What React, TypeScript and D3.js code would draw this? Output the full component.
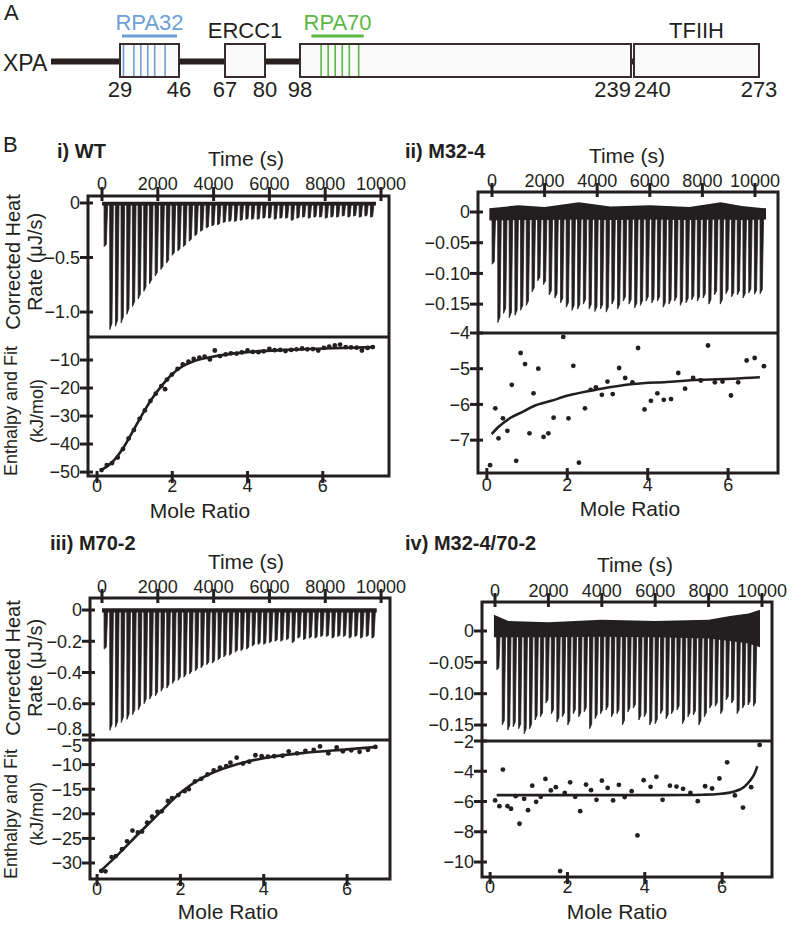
import React from "react";
import * as d3 from "d3";

const FONT = "'Liberation Sans', Arial, Helvetica, sans-serif";
const INK = "#231f20";

/* ---------- A: XPA domain map ---------- */
const residueMarks = [29, 46, 67, 80, 98, 239, 240, 273];
const boxStart = [29, 67, 98, 240];
const boxEnd = [46, 80, 239, 273];
const partnerNames = ["RPA32", "ERCC1", "RPA70", "TFIIH"];
const partnerFrom = [29, 67, 102, 240];
const partnerTo = [46, 80, 126, 273];
const partnerColors = ["#6d9fd8", INK, "#5cb746", INK];
const partnerBar = [true, false, true, false];
const rpa32Sites = [30, 33, 35, 37, 39, 42];
const rpa70Sites = [107, 110, 113, 116, 119, 123];

/* ---------- B: ITC, shared tick labels ---------- */
const timeTicks = [0, 2000, 4000, 6000, 8000, 10000];
const timeLabels = ["0", "2000", "4000", "6000", "8000", "10000"];
const moleTicks = [0, 2, 4, 6];
const moleLabels = ["0", "2", "4", "6"];

/* i) WT */
const heatTicksI = [0, -0.5, -1.0];
const heatLabelsI = ["0", "\u22120.5", "\u22121.0"];
const enthTicksI = [-10, -20, -30, -40, -50];
const enthLabelsI = ["\u221210", "\u221220", "\u221230", "\u221240", "\u221250"];
const peaksI = [-0.40, -1.16, -1.13, -1.10, -1.02, -0.95, -0.88, -0.81, -0.74, -0.67,
  -0.61, -0.55, -0.48, -0.44, -0.40, -0.35, -0.30, -0.26, -0.23, -0.21,
  -0.20, -0.18, -0.17, -0.17, -0.16, -0.15, -0.15, -0.15, -0.14, -0.14,
  -0.15, -0.14, -0.14, -0.16, -0.14, -0.13, -0.14, -0.13, -0.13, -0.14,
  -0.13, -0.13, -0.12, -0.13, -0.12, -0.13, -0.12, -0.13];
const bandTimeI = [0, 9820];
const bandTopI = [0.012, 0.012];
const bandBotI = [-0.022, -0.022];
const moleI = [0.12, 0.26, 0.40, 0.55, 0.69, 0.84, 0.98, 1.13, 1.27, 1.42,
  1.56, 1.71, 1.81, 1.86, 1.99, 2.14, 2.28, 2.43, 2.57, 2.72,
  2.86, 3.00, 3.13, 3.27, 3.42, 3.56, 3.71, 3.85, 4.00, 4.14,
  4.29, 4.43, 4.58, 4.72, 4.87, 5.01, 5.16, 5.30, 5.45, 5.59,
  5.74, 5.88, 6.03, 6.17, 6.32, 6.46, 6.61, 6.75, 6.90, 7.04, 7.19, 7.33];
const enthI = [-49.3, -47.5, -46.8, -44.8, -41.8, -38.0, -35.0, -31.0, -28.0, -24.6,
  -22.0, -19.3, -20.4, -17.0, -15.2, -13.2, -11.6, -10.6, -9.6, -9.2,
  -8.8, -9.8, -6.6, -8.6, -8.0, -7.6, -7.7, -7.3, -6.6, -7.1,
  -7.2, -6.9, -6.0, -6.5, -6.4, -6.8, -6.4, -6.2, -5.9, -6.2,
  -6.1, -6.6, -5.7, -5.2, -4.8, -4.5, -5.4, -5.5, -5.6, -6.6, -5.7, -5.4];
const fitMoleI = [0.1, 0.4, 0.7, 0.95, 1.2, 1.45, 1.7, 2.0, 2.3, 2.6, 3.0, 3.5, 4.0, 5.0, 6.0, 7.35];
const fitEnthI = [-49.4, -46.5, -41.3, -35.5, -29.5, -24.0, -19.5, -15.0, -12.0, -10.3, -9.0, -7.9, -7.2, -6.4, -5.9, -5.4];

/* ii) M32-4 */
const heatTicksII = [0, -0.05, -0.10, -0.15];
const heatLabelsII = ["0", "\u22120.05", "\u22120.10", "\u22120.15"];
const enthTicksII = [-4, -5, -6, -7];
const enthLabelsII = ["\u22124", "\u22125", "\u22126", "\u22127"];
const peaksII = [-0.085, -0.18, -0.165, -0.172, -0.168, -0.160, -0.152, -0.130, -0.112, -0.118,
  -0.135, -0.140, -0.148, -0.155, -0.160, -0.158, -0.150, -0.158, -0.162, -0.158,
  -0.163, -0.150, -0.158, -0.145, -0.150, -0.156, -0.152, -0.145, -0.148, -0.145,
  -0.155, -0.150, -0.145, -0.152, -0.148, -0.143, -0.145, -0.140, -0.150, -0.135,
  -0.150, -0.133, -0.138, -0.135, -0.140, -0.132, -0.134, -0.133];
const bandTimeII = [-100, 1000, 2000, 3300, 4500, 6000, 7500, 8700, 9500, 10420];
const bandTopII = [0.006, 0.011, 0.008, 0.016, 0.009, 0.011, 0.008, 0.016, 0.010, 0.006];
const bandBotII = [-0.014, -0.013, -0.013, -0.012, -0.013, -0.012, -0.013, -0.012, -0.013, -0.012];
const moleII = [0.08, 0.21, 0.29, 0.40, 0.51, 0.62, 0.73, 0.84, 0.95, 1.06,
  1.16, 1.28, 1.41, 1.53, 1.66, 1.90, 2.03, 2.15, 2.29, 2.44,
  2.58, 2.71, 2.86, 3.00, 3.13, 3.29, 3.44, 3.62, 3.76, 3.92,
  4.08, 4.24, 4.40, 4.58, 4.76, 4.93, 5.13, 5.32, 5.50, 5.67,
  5.86, 6.07, 6.25, 6.46, 6.66, 6.89];
const enthII = [-7.70, -6.11, -6.95, -6.39, -6.74, -5.45, -7.58, -4.56, -4.87, -6.81,
  -5.69, -5.00, -6.91, -6.81, -6.37, -4.11, -6.39, -4.92, -7.63, -6.11,
  -5.59, -5.52, -5.73, -5.36, -5.71, -4.98, -5.26, -5.38, -4.42, -6.14,
  -5.90, -5.69, -5.87, -5.85, -5.12, -5.56, -5.26, -5.33, -4.35, -5.38,
  -5.36, -5.75, -5.38, -4.77, -4.70, -4.93];
const fitMoleII = [0.12, 0.30, 0.58, 0.90, 1.16, 1.60, 1.99, 2.81, 3.64, 4.47, 5.30, 6.13, 6.79];
const fitEnthII = [-6.83, -6.62, -6.38, -6.20, -6.05, -5.90, -5.76, -5.57, -5.43, -5.37, -5.31, -5.28, -5.24];

/* iii) M70-2 */
const heatTicksIII = [0, -0.2, -0.4, -0.6, -0.8];
const heatLabelsIII = ["0", "\u22120.2", "\u22120.4", "\u22120.6", "\u22120.8"];
const enthTicksIII = [-5, -10, -15, -20, -25, -30];
const enthLabelsIII = ["\u22125", "\u221210", "\u221215", "\u221220", "\u221225", "\u221230"];
const peaksIII = [-0.25, -0.77, -0.75, -0.72, -0.70, -0.67, -0.64, -0.60, -0.57, -0.55,
  -0.52, -0.50, -0.47, -0.45, -0.43, -0.41, -0.39, -0.37, -0.35, -0.34,
  -0.32, -0.30, -0.29, -0.27, -0.26, -0.25, -0.23, -0.22, -0.22, -0.21,
  -0.20, -0.20, -0.19, -0.21, -0.18, -0.19, -0.18, -0.18, -0.17, -0.17,
  -0.18, -0.17, -0.17, -0.18, -0.17, -0.18, -0.17, -0.18];
const bandTimeIII = [0, 9845];
const bandTopIII = [0.012, 0.012];
const bandBotIII = [-0.016, -0.016];
const moleIII = [0.10, 0.20, 0.35, 0.45, 0.60, 0.72, 0.85, 0.98, 1.08, 1.20,
  1.32, 1.45, 1.55, 1.70, 1.80, 1.95, 2.10, 2.20, 2.35, 2.50,
  2.65, 2.80, 2.95, 3.10, 3.20, 3.35, 3.50, 3.65, 3.80, 3.95,
  4.10, 4.25, 4.45, 4.60, 4.80, 5.00, 5.20, 5.35, 5.55, 5.75,
  5.90, 6.10, 6.30, 6.50, 6.68];
const enthIII = [-31.6, -31.7, -28.8, -28.6, -27.2, -25.6, -23.4, -23.8, -23.6, -21.8,
  -20.6, -19.6, -19.5, -17.4, -16.8, -16.2, -15.4, -15.0, -13.4, -12.9,
  -12.0, -11.2, -10.6, -10.3, -9.6, -8.6, -9.8, -9.4, -8.1, -8.3,
  -8.4, -8.3, -8.2, -7.3, -7.7, -7.2, -7.0, -6.3, -7.7, -6.5,
  -7.3, -7.1, -7.4, -7.0, -6.4];
const fitMoleIII = [0.10, 0.5, 1.0, 1.5, 2.0, 2.5, 3.0, 3.5, 4.0, 5.0, 6.0, 6.7];
const fitEnthIII = [-31.5, -28.3, -24.0, -19.8, -15.7, -12.8, -10.9, -9.6, -8.7, -7.6, -6.9, -6.4];

/* iv) M32-4/70-2 */
const heatTicksIV = [0, -0.05, -0.10, -0.15];
const heatLabelsIV = ["0", "\u22120.05", "\u22120.10", "\u22120.15"];
const enthTicksIV = [-2, -4, -6, -8, -10];
const enthLabelsIV = ["\u22122", "\u22124", "\u22126", "\u22128", "\u221210"];
const peaksIV = [-0.062, -0.150, -0.158, -0.153, -0.156, -0.164, -0.156, -0.142, -0.137, -0.115,
  -0.132, -0.145, -0.137, -0.150, -0.132, -0.137, -0.129, -0.156, -0.140, -0.132,
  -0.126, -0.137, -0.132, -0.150, -0.129, -0.123, -0.142, -0.137, -0.150, -0.148,
  -0.132, -0.140, -0.132, -0.126, -0.148, -0.137, -0.134, -0.150, -0.137, -0.123,
  -0.120, -0.132, -0.110, -0.115, -0.132, -0.123, -0.118, -0.120];
const bandTimeIV = [-40, 500, 2000, 4000, 6000, 8000, 8800, 9500, 9925];
const bandTopIV = [0.026, 0.016, 0.014, 0.018, 0.016, 0.018, 0.024, 0.028, 0.034];
const bandBotIV = [-0.010, -0.010, -0.010, -0.009, -0.010, -0.012, -0.016, -0.020, -0.026];
const moleIV = [0.13, 0.24, 0.33, 0.45, 0.54, 0.66, 0.76, 0.88, 0.98,
  1.09, 1.19, 1.31, 1.43, 1.57, 1.70, 1.81, 1.93, 2.07, 2.20,
  2.33, 2.48, 2.61, 2.75, 2.89, 3.04, 3.18, 3.33, 3.48, 3.66,
  3.81, 3.97, 4.15, 4.30, 4.46, 4.65, 4.82, 4.99, 5.18, 5.37,
  5.56, 5.74, 5.93, 6.13, 6.33, 6.54, 6.75, 6.97];
const enthIV = [-5.93, -6.31, -3.89, -6.31, -6.48, -5.65, -7.47, -5.82, -6.57,
  -4.95, -6.02, -5.69, -4.51, -5.27, -5.05, -10.6, -5.43, -4.73, -5.69,
  -6.64, -4.88, -5.25, -5.89, -4.62, -5.10, -5.93, -4.90, -5.71, -5.32,
  -8.24, -4.59, -5.03, -4.37, -5.89, -4.95, -5.01, -5.16, -5.43, -5.98,
  -4.99, -5.14, -4.48, -3.41, -5.60, -6.40, -5.05, -2.26];
const fitMoleIV = [0.17, 1.0, 2.0, 3.0, 4.0, 5.0, 5.5, 5.9, 6.3, 6.56, 6.73, 6.84, 6.91];
const fitEnthIV = [-5.58, -5.58, -5.58, -5.58, -5.58, -5.57, -5.55, -5.50, -5.35, -5.05, -4.60, -4.15, -3.67];

type Frame = { l: number; r: number; t: number; m: number; b: number };

interface PanelDef {
  id: string;
  title: string;
  titleX: number;
  titleY: number;
  frame: Frame;
  timeDomain: [number, number];
  heatDomain: [number, number];
  enthDomain: [number, number];
  moleDomain: [number, number];
  heatTicks: number[];
  heatLabels: string[];
  enthTicks: number[];
  enthLabels: string[];
  peaks: number[];
  injRange: [number, number];
  bandT: number[];
  bandTop: number[];
  bandBot: number[];
  dotsX: number[];
  dotsY: number[];
  fitX: number[];
  fitY: number[];
  timeTitle: [number, number];
  topTickY: number;
  bottomTickY: number;
  moleTitle: [number, number];
  yTitles?: [number, number];
}

const panels: PanelDef[] = [
  {
    id: "i", title: "i) WT", titleX: 57, titleY: 158,
    frame: { l: 88, r: 389, t: 196, m: 337, b: 476 },
    timeDomain: [-502, 10287], heatDomain: [0.064, -1.229],
    enthDomain: [-1.79, -51.4], moleDomain: [-0.24, 7.76],
    heatTicks: heatTicksI, heatLabels: heatLabelsI, enthTicks: enthTicksI, enthLabels: enthLabelsI,
    peaks: peaksI, injRange: [72, 9620], bandT: bandTimeI, bandTop: bandTopI, bandBot: bandBotI,
    dotsX: moleI, dotsY: enthI, fitX: fitMoleI, fitY: fitEnthI,
    timeTitle: [246, 166], topTickY: 190, bottomTickY: 492, moleTitle: [200, 518],
    yTitles: [262, 411],
  },
  {
    id: "ii", title: "ii) M32-4", titleX: 405, titleY: 158,
    frame: { l: 478, r: 778, t: 192, m: 333, b: 473 },
    timeDomain: [-532, 10875], heatDomain: [0.0326, -0.197],
    enthDomain: [-4, -7.92], moleDomain: [-0.22, 7.24],
    heatTicks: heatTicksII, heatLabels: heatLabelsII, enthTicks: enthTicksII, enthLabels: enthLabelsII,
    peaks: peaksII, injRange: [0, 10190], bandT: bandTimeII, bandTop: bandTopII, bandBot: bandBotII,
    dotsX: moleII, dotsY: enthII, fitX: fitMoleII, fitY: fitEnthII,
    timeTitle: [627, 163], topTickY: 187, bottomTickY: 491, moleTitle: [630, 516],
  },
  {
    id: "iii", title: "iii) M70-2", titleX: 50, titleY: 550,
    frame: { l: 90, r: 390, t: 598, m: 740, b: 879 },
    timeDomain: [-430, 10320], heatDomain: [0.077, -0.832],
    enthDomain: [-5, -33.25], moleDomain: [-0.17, 7.03],
    heatTicks: heatTicksIII, heatLabels: heatLabelsIII, enthTicks: enthTicksIII, enthLabels: enthLabelsIII,
    peaks: peaksIII, injRange: [72, 9666], bandT: bandTimeIII, bandTop: bandTopIII, bandBot: bandBotIII,
    dotsX: moleIII, dotsY: enthIII, fitX: fitMoleIII, fitY: fitEnthIII,
    timeTitle: [246, 569], topTickY: 593, bottomTickY: 895, moleTitle: [228, 919],
    yTitles: [668, 814],
  },
  {
    id: "iv", title: "iv) M32-4/70-2", titleX: 405, titleY: 550,
    frame: { l: 482, r: 772, t: 602, m: 741, b: 877 },
    timeDomain: [-487, 10375], heatDomain: [0.0463, -0.1755],
    enthDomain: [-2, -10.99], moleDomain: [-0.21, 7.29],
    heatTicks: heatTicksIV, heatLabels: heatLabelsIV, enthTicks: enthTicksIV, enthLabels: enthLabelsIV,
    peaks: peaksIV, injRange: [62, 9675], bandT: bandTimeIV, bandTop: bandTopIV, bandBot: bandBotIV,
    dotsX: moleIV, dotsY: enthIV, fitX: fitMoleIV, fitY: fitEnthIV,
    timeTitle: [635, 572], topTickY: 597, bottomTickY: 893, moleTitle: [617, 919],
  },
];

const DomainMap = () => {
  const rx = d3.scaleLinear()
    .domain([1, 29, 46, 67, 80, 98, 239, 240, 273])
    .range([51, 120, 179, 225, 265, 300, 631, 634, 759]);
  const boxTop = 44;
  const boxH = 33;
  const anchorOf = (r: number, i: number) => {
    if (residueMarks[i + 1] === r + 1) return "end";
    if (residueMarks[i - 1] === r - 1) return "start";
    return "middle";
  };
  return (
    <g fontFamily={FONT}>
      <text x={4} y={20} fontSize={22} fill={INK}>A</text>
      <text x={3} y={71} fontSize={23} fill={INK}>XPA</text>
      <line x1={rx(1)} x2={rx(273)} y1={61.5} y2={61.5} stroke="#2b2020" strokeWidth={6} />
      {boxStart.map((s, i) => (
        <rect key={i} x={rx(s)} y={boxTop} width={rx(boxEnd[i]) - rx(s)} height={boxH}
          fill="#fafafa" stroke="#3a2c2c" strokeWidth={2} />
      ))}
      {rpa32Sites.map((r, i) => (
        <line key={"b" + i} x1={rx(r)} x2={rx(r)} y1={boxTop + 1} y2={boxTop + boxH - 1}
          stroke={partnerColors[0]} strokeWidth={1.6} />
      ))}
      {rpa70Sites.map((r, i) => (
        <line key={"g" + i} x1={rx(r)} x2={rx(r)} y1={boxTop + 1} y2={boxTop + boxH - 1}
          stroke={partnerColors[2]} strokeWidth={1.6} />
      ))}
      {partnerNames.map((n, i) => {
        const cx = (rx(partnerFrom[i]) + rx(partnerTo[i])) / 2;
        return (
          <g key={n}>
            <text x={cx} y={partnerBar[i] ? 30 : 38} textAnchor="middle" fontSize={22}
              fill={partnerColors[i]}>{n}</text>
            {partnerBar[i] && (
              <line x1={rx(partnerFrom[i]) + 2} x2={rx(partnerTo[i]) - 2} y1={36} y2={36}
                stroke={partnerColors[i]} strokeWidth={3} />
            )}
          </g>
        );
      })}
      {residueMarks.map((r, i) => (
        <text key={r} x={rx(r)} y={97} textAnchor={anchorOf(r, i)} fontSize={22} fill={INK}>{r}</text>
      ))}
    </g>
  );
};

const ItcPanel = ({ p }: { p: PanelDef }) => {
  const f = p.frame;
  const xT = d3.scaleLinear().domain(p.timeDomain).range([f.l, f.r]);
  const yH = d3.scaleLinear().domain(p.heatDomain).range([f.t, f.m]);
  const xM = d3.scaleLinear().domain(p.moleDomain).range([f.l, f.r]);
  const yE = d3.scaleLinear().domain(p.enthDomain).range([f.m, f.b]);
  const inj = d3.scaleLinear().domain([0, p.peaks.length - 1]).range(p.injRange);
  const step = inj(1) - inj(0);

  const bandPath = d3.area<number>()
    .x((i) => xT(p.bandT[i]))
    .y0((i) => yH(p.bandBot[i]))
    .y1((i) => yH(p.bandTop[i]))(d3.range(p.bandT.length));

  // each injection: fast drop to the peak, slower return to baseline
  const spikeLine = d3.line();
  const spikes = p.peaks.map((v, i) => {
    const t = inj(i);
    return spikeLine([
      [xT(t), yH(0)],
      [xT(t + 0.03 * step), yH(v)],
      [xT(t + 0.4 * step), yH(v * 0.95)],
      [xT(t + 0.65 * step), yH(0)],
    ]) + "Z";
  });

  const fitPath = d3.line<number>()
    .x((i) => xM(p.fitX[i]))
    .y((i) => yE(p.fitY[i]))
    .curve(d3.curveMonotoneX)(d3.range(p.fitX.length));

  // the last heat label and the first enthalpy label sit either side of the divider
  const lastHeatY = yH(p.heatTicks[p.heatTicks.length - 1]);
  const firstEnthY = yE(p.enthTicks[0]);
  const squeeze = Math.max(0, 17 - (firstEnthY - lastHeatY)) / 2;

  const clipId = "clip-" + p.id;
  const txt = { fontFamily: FONT, fill: INK };

  return (
    <g>
      <defs>
        <clipPath id={clipId}>
          <rect x={f.l} y={f.t} width={f.r - f.l} height={f.m - f.t} />
        </clipPath>
      </defs>
      <text x={p.titleX} y={p.titleY} fontSize={20} fontWeight="bold" {...txt}>{p.title}</text>
      <text x={p.timeTitle[0]} y={p.timeTitle[1]} fontSize={21} textAnchor="middle" {...txt}>Time (s)</text>
      <text x={p.moleTitle[0]} y={p.moleTitle[1]} fontSize={21} textAnchor="middle" {...txt}>Mole Ratio</text>

      {/* thermogram */}
      <g clipPath={`url(#${clipId})`}>
        <path d={bandPath ?? ""} fill={INK} />
        {spikes.map((d, i) => (
          <path key={i} d={d} fill={INK} stroke={INK} strokeWidth={0.8} strokeLinejoin="round" />
        ))}
      </g>

      {/* isotherm */}
      <path d={fitPath ?? ""} fill="none" stroke={INK} strokeWidth={2.6} />
      {p.dotsX.map((m, i) => (
        <circle key={i} cx={xM(m)} cy={yE(p.dotsY[i])} r={2.4} fill={INK} />
      ))}

      {/* frame */}
      <rect x={f.l} y={f.t} width={f.r - f.l} height={f.b - f.t} fill="none" stroke={INK} strokeWidth={3} />
      <line x1={f.l} x2={f.r} y1={f.m} y2={f.m} stroke={INK} strokeWidth={3} />

      {/* top time axis */}
      {timeTicks.map((t, i) => (
        <g key={"t" + t}>
          <text x={xT(t)} y={p.topTickY} fontSize={18} textAnchor="middle" {...txt}>{timeLabels[i]}</text>
          <line x1={xT(t)} x2={xT(t)} y1={f.t - 9} y2={f.t + 5} stroke={INK} strokeWidth={3} />
        </g>
      ))}
      {/* bottom mole-ratio axis */}
      {moleTicks.map((m, i) => (
        <g key={"m" + m}>
          <text x={xM(m)} y={p.bottomTickY} fontSize={18} textAnchor="middle" {...txt}>{moleLabels[i]}</text>
          <line x1={xM(m)} x2={xM(m)} y1={f.b - 5} y2={f.b + 7} stroke={INK} strokeWidth={3} />
        </g>
      ))}
      {/* heat rate axis */}
      {p.heatTicks.map((v, i) => (
        <g key={"h" + i}>
          <text x={f.l - 8} y={yH(v) - (i === p.heatTicks.length - 1 ? squeeze : 0)} dy="0.35em"
            fontSize={18} textAnchor="end" {...txt}>{p.heatLabels[i]}</text>
          <line x1={f.l - 8} x2={f.l + 5} y1={yH(v)} y2={yH(v)} stroke={INK} strokeWidth={3} />
        </g>
      ))}
      {/* enthalpy axis */}
      {p.enthTicks.map((v, i) => (
        <g key={"e" + i}>
          <text x={f.l - 8} y={yE(v) + (i === 0 ? squeeze : 0)} dy="0.35em"
            fontSize={18} textAnchor="end" {...txt}>{p.enthLabels[i]}</text>
          <line x1={f.l - 8} x2={f.l + 5} y1={yE(v)} y2={yE(v)} stroke={INK} strokeWidth={3} />
        </g>
      ))}

      {p.yTitles && (
        <g {...txt}>
          <text transform={`translate(20,${p.yTitles[0]}) rotate(-90)`} fontSize={20} textAnchor="middle">Corrected Heat</text>
          <text transform={`translate(42,${p.yTitles[0]}) rotate(-90)`} fontSize={20} textAnchor="middle">Rate (μJ/s)</text>
          <text transform={`translate(17,${p.yTitles[1]}) rotate(-90)`} fontSize={18} textAnchor="middle">Enthalpy and Fit</text>
          <text transform={`translate(43,${p.yTitles[1]}) rotate(-90)`} fontSize={18} textAnchor="middle">(kJ/mol)</text>
        </g>
      )}
    </g>
  );
};

const App = () => {
  return (
    <svg width={796} height={925} viewBox="0 0 796 925"
      style={{ position: "absolute", left: 0, top: 0, background: "#fff" }}>
      <rect width={796} height={925} fill="#fff" />
      <DomainMap />
      <text x={3} y={152} fontSize={22} fontFamily={FONT} fill={INK}>B</text>
      {panels.map((p) => (
        <ItcPanel key={p.id} p={p} />
      ))}
    </svg>
  );
};

export default App;
